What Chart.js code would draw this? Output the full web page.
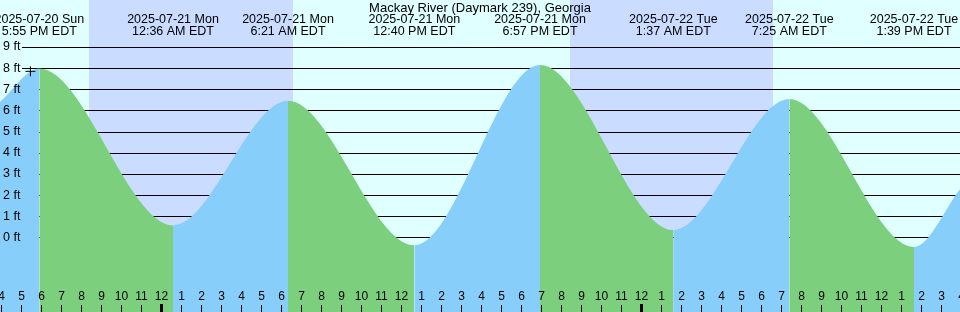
<!DOCTYPE html>
<html>
<head>
<meta charset="utf-8">
<title>Mackay River (Daymark 239), Georgia</title>
<script src="https://cdn.jsdelivr.net/npm/chart.js@4.4.0/dist/chart.umd.min.js"></script>
<style>
  html, body { margin: 0; padding: 0; background: #e0ffff; }
  #wrap { width: 960px; height: 312px; }
</style>
</head>
<body>
<div id="wrap"><canvas id="tideChart" width="960" height="312"></canvas></div>
<script>
// hours are counted from 2025-07-21 00:00 EDT
const stationName = 'Mackay River (Daymark 239), Georgia';

const extremeDates = ['2025-07-20 Sun', '2025-07-21 Mon', '2025-07-21 Mon', '2025-07-21 Mon',
                      '2025-07-21 Mon', '2025-07-22 Tue', '2025-07-22 Tue', '2025-07-22 Tue'];
const extremeTimes = ['5:55 PM EDT', '12:36 AM EDT', '6:21 AM EDT', '12:40 PM EDT',
                      '6:57 PM EDT', '1:37 AM EDT', '7:25 AM EDT', '1:39 PM EDT'];
const extremeHours = [-6.083, 0.6, 6.35, 12.667, 18.95, 25.617, 31.417, 37.65];
const extremeFeet  = [7.98, 0.57, 6.46, -0.37, 8.15, 0.35, 6.54, -0.45];

// tide height where the curve meets the left and right edge of the picture
const edgeHours = [-8.05, 39.95];
const edgeFeet  = [6.4, 2.28];

// night (sunset -> sunrise)
const nightStart = [-3.58, 20.45];
const nightEnd   = [6.6, 30.62];

const footTicks = [0, 1, 2, 3, 4, 5, 6, 7, 8, 9];
const nowMark = { x: -6.53, y: 7.85 };

const blue = '#87cefa';
const green = '#7ccf7c';
const dayBg = '#e0ffff';
const nightBg = '#cadcff';
const fontFamily = '"Liberation Sans", Arial, sans-serif';

const tidePoints = [{ x: edgeHours[0], y: edgeFeet[0] }];
extremeHours.forEach((h, i) => tidePoints.push({ x: h, y: extremeFeet[i] }));
tidePoints.push({ x: edgeHours[1], y: edgeFeet[1] });

function hourLabel(h) {
    const m = ((h % 12) + 12) % 12;
    return String(m === 0 ? 12 : m);
}

// --- background, night bands and the foot lines (under the tide) ---
const backdrop = {
    id: 'backdrop',
    beforeDatasetsDraw(chart) {
        const { ctx, scales: { x, y }, width, height } = chart;
        ctx.save();
        ctx.fillStyle = dayBg;
        ctx.fillRect(0, 0, width, height);
        ctx.fillStyle = nightBg;
        nightStart.forEach((s, i) => {
            const x0 = Math.round(x.getPixelForValue(s));
            const x1 = Math.round(x.getPixelForValue(nightEnd[i]));
            ctx.fillRect(x0, 0, x1 - x0, height);
        });
        ctx.strokeStyle = '#000';
        ctx.lineWidth = 1;
        footTicks.forEach(f => {
            const py = Math.round(y.getPixelForValue(f)) + 0.5;
            ctx.beginPath();
            ctx.moveTo(22, py);
            ctx.lineTo(width, py);
            ctx.stroke();
        });
        ctx.restore();
    }
};

// --- texts drawn on top: title, extreme labels, foot labels, hour axis ---
const labels = {
    id: 'labels',
    afterDatasetsDraw(chart) {
        const { ctx, scales: { x, y }, width, height } = chart;
        ctx.save();
        ctx.fillStyle = '#000';
        ctx.textBaseline = 'middle';

        ctx.textAlign = 'center';
        ctx.font = '13px ' + fontFamily;
        ctx.fillText(stationName, width / 2, 8);
        ctx.font = '12.5px ' + fontFamily;
        extremeHours.forEach((h, i) => {
            const px = x.getPixelForValue(h);
            ctx.fillText(extremeDates[i], px, 20);
            ctx.fillText(extremeTimes[i], px, 31.5);
        });

        ctx.font = '12.5px ' + fontFamily;
        ctx.textAlign = 'left';
        footTicks.forEach(f => {
            ctx.fillText(f + ' ft', 3, y.getPixelForValue(f));
        });

        ctx.font = '12px ' + fontFamily;
        ctx.textAlign = 'center';
        for (let h = Math.floor(x.min); h <= Math.ceil(x.max); h++) {
            const px = Math.round(x.getPixelForValue(h));
            ctx.fillText(hourLabel(h), px + 0.5, 297);
            if (h % 24 === 0) {
                ctx.fillRect(px - 1, 304, 3, height - 304);
            } else {
                ctx.fillRect(px, 305, 1, height - 305);
            }
        }
        ctx.restore();
    }
};

new Chart(document.getElementById('tideChart'), {
    type: 'line',
    data: {
        datasets: [{
            type: 'scatter',
            data: [nowMark],
            pointStyle: 'cross',
            pointRadius: 5,
            borderColor: '#000',
            borderWidth: 1,
            backgroundColor: '#000'
        }, {
            data: tidePoints,
            borderWidth: 0,
            borderColor: 'rgba(0,0,0,0)',
            backgroundColor: blue,
            pointRadius: 0,
            fill: 'start',
            cubicInterpolationMode: 'monotone',
            segment: {
                backgroundColor: c => c.p1.parsed.y >= c.p0.parsed.y ? blue : green
            }
        }]
    },
    options: {
        responsive: false,
        devicePixelRatio: 1,
        animation: false,
        layout: { padding: 0, autoPadding: false },
        plugins: {
            legend: { display: false },
            tooltip: { enabled: false },
            title: { display: false }
        },
        scales: {
            x: { type: 'linear', min: -8.05, max: 39.95, display: false },
            y: { min: -3.52, max: 11.22, display: false }
        }
    },
    plugins: [backdrop, labels]
});
</script>
</body>
</html>
